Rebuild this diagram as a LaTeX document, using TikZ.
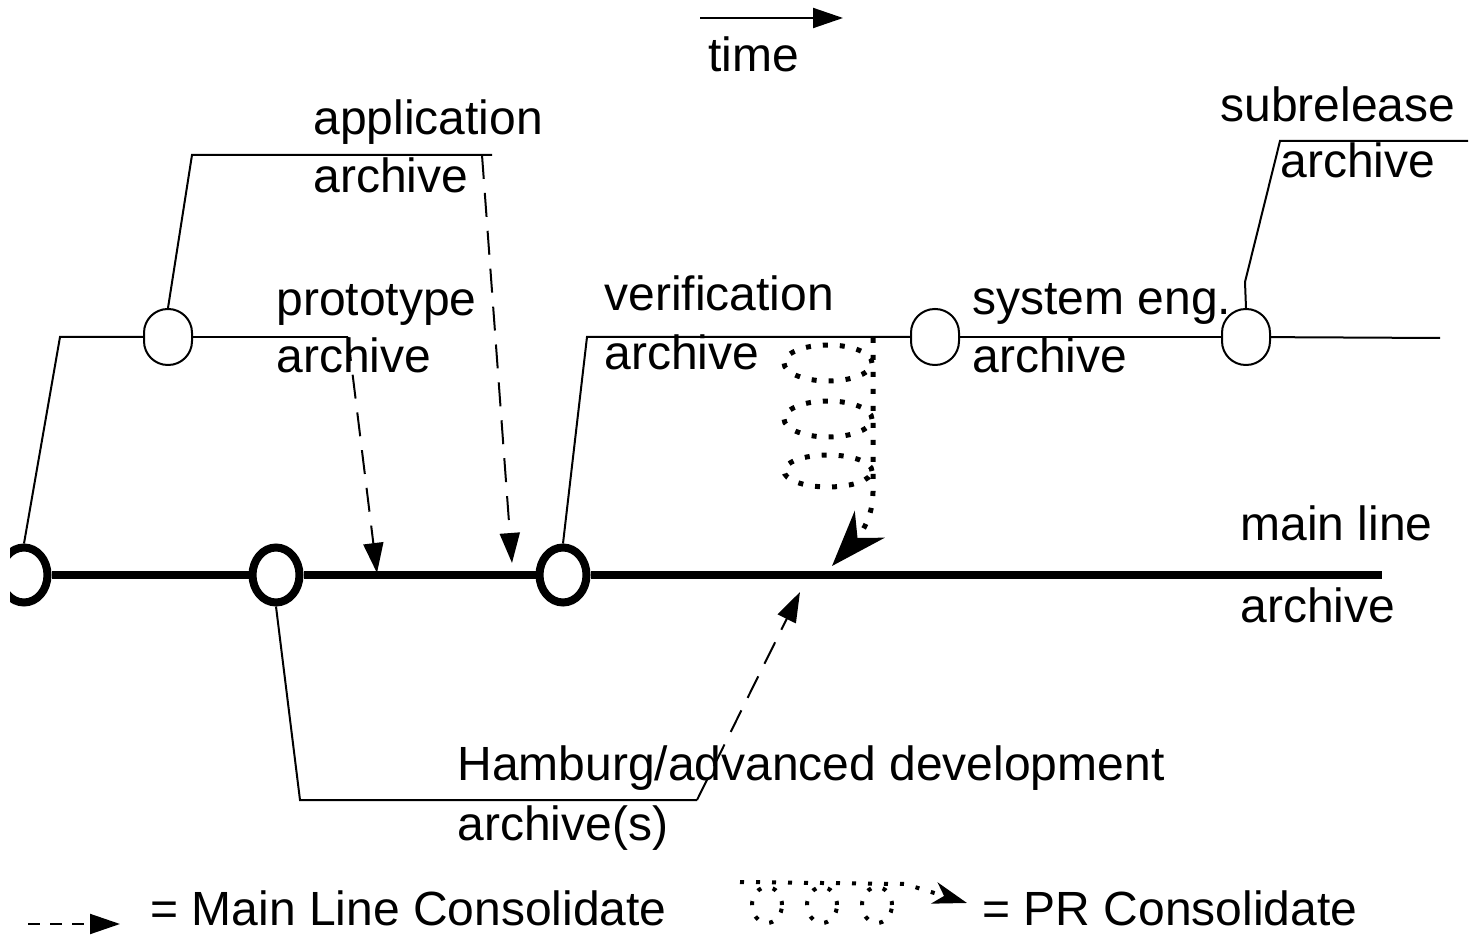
\documentclass[tikz,border=0pt]{standalone}
\usepackage{fontspec}
\setmainfont{Liberation Sans}
\usetikzlibrary{arrows.meta,shapes.geometric}
\begin{document}
\begin{tikzpicture}[x=0.5pt,y=-0.5pt,
  lbl/.style={anchor=base west,inner sep=0pt,font=\fontsize{24}{28}\selectfont},
  thin/.style={line width=1pt},
  mainln/.style={line width=4pt},
  headtip/.style={-{Triangle[length=15pt,width=10pt]}},
  bigring/.style={ellipse,draw,line width=4pt,fill=white,minimum width=23.5pt,minimum height=27.5pt,inner sep=0pt},
  smallring/.style={rectangle,rounded corners=11.9pt,draw,line width=1pt,fill=white,minimum width=24pt,minimum height=28pt,inner sep=0pt},
  merge/.style={line width=1pt,dash pattern=on 12pt off 7pt,headtip},
  coil/.style={line width=2.5pt,dash pattern=on 2.5pt off 6pt},
  legcoil/.style={line width=2pt,dash pattern=on 2pt off 6pt},
]
\useasboundingbox (0,0) rectangle (1478,935);
\begin{scope}
\clip (10,0) rectangle (1478,935);

% time direction
\coordinate (tA) at (700,18);
\coordinate (tB) at (843,18);
\draw[thin,headtip] (tA) -- (tB);
\node[lbl] (tTime) at (708,72) {time};

% archive points
\node[bigring] (m0) at (24,575) {};
\node[bigring] (m1) at (276,575) {};
\node[bigring] (m2) at (563,575) {};
\coordinate (mEnd) at (1382,575);
\node[smallring] (a1) at (168,337) {};
\node[smallring] (v1) at (935,337) {};
\node[smallring] (v2) at (1246,337) {};

% bend and end points of the branch lines
\coordinate (p0) at (60,337);
\coordinate (pEnd) at (348,337);
\coordinate (q0) at (192,155);
\coordinate (qEnd) at (492,155);
\coordinate (r0) at (587,337);
\coordinate (rEnd) at (1440,338);
\coordinate (s0) at (1245,282);
\coordinate (s1) at (1280,141);
\coordinate (sEnd) at (1468,141);
\coordinate (h0) at (300,800);
\coordinate (hEnd) at (697,800);

% main line
\draw[mainln] (m0) -- (m1) (m1) -- (m2) (m2) -- (mEnd);

% branches
\draw[thin] (m0.north) -- (p0) -- (a1);
\draw[thin] (a1) -- (pEnd);
\draw[thin] (a1.north) -- (q0) -- (qEnd);
\draw[thin] (m2.north) -- (r0) -- (v1);
\draw[thin] (v1) -- (v2);
\draw[thin] (v2) -- (rEnd);
\draw[thin] (v2.north) -- (s0) -- (s1) -- (sEnd);
\draw[thin] (m1.south) -- (h0) -- (hEnd);

% main line consolidations
\coordinate (appFrom) at (482,155);
\coordinate (appTo) at (512,563);
\coordinate (protoTo) at (377,573);
\coordinate (hamTo) at (800,592);
\draw[merge] (appFrom) -- (appTo);
\draw[merge] (pEnd) -- (protoTo);
\draw[merge] (hEnd) -- (hamTo);

% PR consolidation coil
\coordinate (cTop) at (873,338);
\coordinate (cLow) at (873,492);
\coordinate (cC1) at (873,518);
\coordinate (cC2) at (860,535);
\coordinate (cTip) at (832,566);
\draw[coil] (828,363) ellipse [x radius=22pt, y radius=9pt];
\draw[coil] (828,419) ellipse [x radius=22pt, y radius=9pt];
\draw[coil] (828,471) ellipse [x radius=22pt, y radius=8pt];
\draw[coil,-{Stealth[length=28pt,width=20pt,inset=9pt]}] (cTop) -- (cLow) .. controls (cC1) and (cC2) .. (cTip);

% labels
\node[lbl] (tApp1) at (313,135) {application};
\node[lbl] (tApp2) at (313,193) {archive};
\node[lbl] (tSub1) at (1220,122) {subrelease};
\node[lbl] (tSub2) at (1280,178) {archive};
\node[lbl] (tPro1) at (276,316) {prototype};
\node[lbl] (tPro2) at (276,373) {archive};
\node[lbl] (tVer1) at (604,311) {verification};
\node[lbl] (tVer2) at (604,370) {archive};
\node[lbl] (tSys1) at (972,315) {system eng.};
\node[lbl] (tSys2) at (972,373) {archive};
\node[lbl] (tMain1) at (1240,540) {main line};
\node[lbl] (tMain2) at (1240,622) {archive};
\node[lbl] (tHam1) at (457,780) {Hamburg/advanced development};
\node[lbl] (tHam2) at (457,840) {archive(s)};

% legend
\coordinate (lgA) at (28,924);
\coordinate (lgB) at (120,924);
\draw[line width=1pt,dash pattern=on 6pt off 5pt,headtip] (lgA) -- (lgB);
\node[lbl] (tLeg1) at (150,925) {= Main Line Consolidate};

\coordinate (lp0) at (740,882);
\coordinate (lp1) at (905,884);
\coordinate (lp2) at (967,903);
\draw[legcoil] (767,905) ellipse [x radius=7.5pt, y radius=9pt];
\draw[legcoil] (822,905) ellipse [x radius=7.5pt, y radius=9pt];
\draw[legcoil] (877,905) ellipse [x radius=7.5pt, y radius=9pt];
\draw[legcoil,-{Stealth[length=17pt,width=11pt,inset=5pt]}] (lp0) -- (lp1) -- (lp2);
\node[lbl] (tLeg2) at (982,925) {= PR Consolidate};
\end{scope}
\end{tikzpicture}
\end{document}
